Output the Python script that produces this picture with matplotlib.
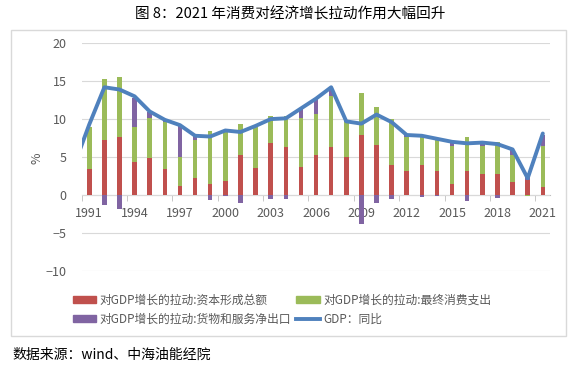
import matplotlib.pyplot as plt
import numpy as np
from matplotlib.patches import Rectangle
from matplotlib.lines import Line2D
from matplotlib.patches import Patch

plt.rcParams['font.family'] = ['Noto Sans CJK SC', 'DejaVu Sans']

years = list(range(1991, 2022))
capital = [3.4, 7.3, 7.6, 4.3, 4.9, 3.4, 1.2, 2.2, 1.5, 1.8,
           5.2, 3.6, 6.8, 6.3, 3.7, 5.3, 6.3, 5.0, 7.9, 6.6,
           3.9, 3.2, 4.0, 3.2, 1.5, 3.1, 2.7, 2.8, 1.7, 1.9, 1.1]
consumption = [5.6, 8.0, 8.0, 4.6, 5.2, 6.2, 3.8, 5.0, 6.9, 6.6,
               4.2, 5.4, 3.6, 4.1, 6.5, 5.4, 6.7, 4.6, 5.5, 5.0,
               6.1, 4.4, 3.9, 4.0, 4.9, 4.5, 3.8, 4.2, 3.5, -0.2, 5.3]
net_exports = [0.0, -1.4, -1.8, 3.9, 0.8, 0.1, 4.1, 0.6, -0.7, -0.2,
               -1.1, 0.0, -0.6, -0.6, 1.2, 1.9, 1.1, 0.1, -3.9, -1.1,
               -0.6, 0.3, -0.3, -0.1, 0.4, -0.8, 0.3, -0.4, 0.7, 0.5, 1.5]
gdp_years = list(range(1990, 2022))
gdp = [3.9, 9.3, 14.2, 13.9, 13.0, 11.0, 9.9, 9.2, 7.8, 7.7, 8.5,
       8.3, 9.1, 10.0, 10.1, 11.4, 12.7, 14.2, 9.7, 9.4, 10.6,
       9.6, 7.9, 7.8, 7.4, 7.0, 6.8, 6.9, 6.7, 6.0, 2.2, 8.1]

labels = ['对GDP增长的拉动:资本形成总额', '对GDP增长的拉动:最终消费支出',
          '对GDP增长的拉动:货物和服务净出口', 'GDP：同比']
colors = ['#C0504D', '#9BBB59', '#8064A2', '#4F81BD']

fig = plt.figure(figsize=(5.8, 3.71), dpi=100)
ax = fig.add_axes([0.1409, 0.2704, 0.808, 0.6129])

# 正值往上堆、负值往下堆（同 Excel 堆积柱形图）
x = np.array(years)
pos_base = np.zeros(len(years))
neg_base = np.zeros(len(years))
for vals, c in zip([capital, consumption, net_exports], colors[:3]):
    v = np.array(vals)
    bottom = np.where(v >= 0, pos_base, neg_base)
    ax.bar(x, v, bottom=bottom, width=0.3, color=c, zorder=2)
    pos_base = pos_base + np.where(v > 0, v, 0)
    neg_base = neg_base + np.where(v < 0, v, 0)

ax.plot(gdp_years, gdp, color=colors[3], lw=2.8, solid_joinstyle='round',
        solid_capstyle='round', zorder=3)

ax.set_xlim(1990.5, 2021.5)
ax.set_ylim(-10, 20)
ax.set_yticks([-10, -5, 0, 5, 10, 15, 20])
ax.grid(axis='y', color='#D9D9D9', lw=0.8, zorder=0)
for s in ['left', 'right', 'top']:
    ax.spines[s].set_visible(False)
ax.spines['bottom'].set_position(('data', 0))
ax.spines['bottom'].set_color('#BFBFBF')
ax.spines['bottom'].set_zorder(1)

ax.set_xticks(years[::3])
ax.set_xticks(np.arange(1990.5, 2022, 3), minor=True)
ax.tick_params(axis='x', which='major', length=0, pad=9, labelsize=9, labelcolor='#595959')
ax.tick_params(axis='x', which='minor', length=4, color='#BFBFBF')
ax.tick_params(axis='y', length=0, pad=11, labelsize=9, labelcolor='#595959')

fig.text(37 / 580, 1 - 158 / 371, '%', rotation=90, ha='center', va='center',
         fontsize=9, color='#595959')

handles = [Patch(color=colors[0]), Patch(color=colors[1]), Patch(color=colors[2]),
           Line2D([], [], color=colors[3], lw=2.8)]
fig.legend([handles[0], handles[2], handles[1], handles[3]],
           [labels[0], labels[2], labels[1], labels[3]],
           ncol=2, loc='upper left', bbox_to_anchor=(68 / 580, 1 - 289 / 371),
           frameon=False, fontsize=8.5, labelcolor='#595959',
           handlelength=2.0, handleheight=0.55, handletextpad=0.3,
           columnspacing=0.4, labelspacing=0.5, borderaxespad=0)

fig.patches.append(Rectangle((11 / 580, 1 - 336 / 371), 555 / 580, 306 / 371,
                             transform=fig.transFigure, fill=False,
                             edgecolor='#D9D9D9', lw=1))

fig.text(0.5, 1 - 14 / 371, '图 8：2021 年消费对经济增长拉动作用大幅回升',
         ha='center', va='center', fontsize=10.5)
fig.text(12 / 580, 1 - 355 / 371, '数据来源：wind、中海油能经院',
         ha='left', va='center', fontsize=10)

fig.savefig('out.png', dpi=100)
